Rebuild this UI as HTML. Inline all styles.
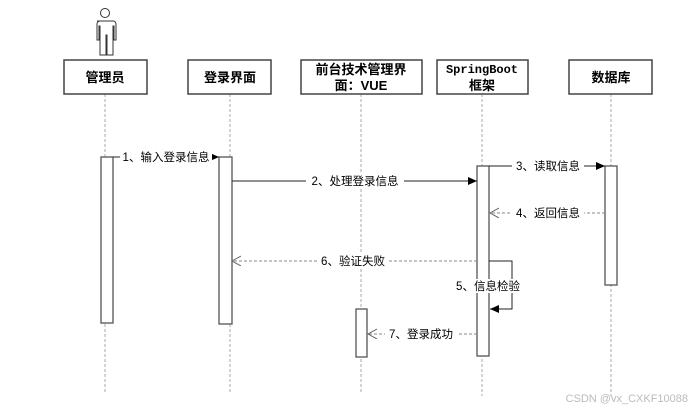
<!DOCTYPE html>
<html><head><meta charset="utf-8"><style>
body{margin:0;background:#fff;}
svg text{font-family:"Liberation Sans","Noto Sans CJK SC",sans-serif;}
svg text.mono{font-family:"Liberation Mono","Noto Sans CJK SC",monospace;}
</style></head><body>
<svg width="699" height="411" viewBox="0 0 699 411" xmlns="http://www.w3.org/2000/svg">
<defs>
<marker id="f" markerWidth="10" markerHeight="10" refX="9" refY="4" orient="auto" markerUnits="userSpaceOnUse"><path d="M0,0 L9,4 L0,8 z" fill="#000"/></marker>
<marker id="o" markerWidth="12" markerHeight="12" refX="9" refY="5" orient="auto" markerUnits="userSpaceOnUse"><path d="M0,0 L9,5 L0,10" fill="none" stroke="#666"/></marker>
</defs>
<!-- actor -->
<g fill="none" stroke="#333" stroke-width="1">
<circle cx="105" cy="13" r="4.5"/>
<path d="M97,21 h16 a3,3 0 0 1 3,3 v16 h-2 v-14 h-1 v29 h-6 v-20 h-1 v20 h-6 v-29 h-1 v14 h-2 v-16 a3,3 0 0 1 3,-3z"/>
</g>
<!-- lifelines -->
<g stroke="#aaa" stroke-dasharray="3,2" stroke-width="1">
<line x1="105" y1="94" x2="105" y2="392"/>
<line x1="230" y1="94" x2="230" y2="392"/>
<line x1="361" y1="94" x2="361" y2="392"/>
<line x1="482" y1="94" x2="482" y2="396"/>
<line x1="611" y1="94" x2="611" y2="396"/>
</g>
<!-- boxes -->
<g fill="#fff" stroke="#444" stroke-width="1.5">
<rect x="64" y="60" width="83" height="34"/>
<rect x="188" y="60" width="83" height="34"/>
<rect x="301" y="60" width="121" height="34"/>
<rect x="437" y="60" width="91" height="34"/>
<rect x="569" y="60" width="83" height="34"/>
</g>
<g font-size="13" font-weight="bold" text-anchor="middle" fill="#000">
<text x="105" y="82">管理员</text>
<text x="230" y="82">登录界面</text>
<text x="361" y="74">前台技术管理界</text>
<text x="361" y="90">面：VUE</text>
<text x="482" y="73" class="mono" font-size="12">SpringBoot</text>
<text x="482" y="90">框架</text>
<text x="611" y="82">数据库</text>
</g>
<!-- activations -->
<g fill="#fff" stroke="#555" stroke-width="1.3">
<rect x="101" y="157" width="12" height="166"/>
<rect x="219" y="157" width="13" height="167"/>
<rect x="477" y="166" width="12" height="190"/>
<rect x="605" y="166" width="12" height="119"/>
<rect x="356" y="309" width="11" height="48"/>
</g>
<!-- messages -->
<g stroke="#222" stroke-width="1" fill="none">
<line x1="113" y1="157" x2="219" y2="157" marker-end="url(#f)"/>
<line x1="232" y1="181" x2="477" y2="181" marker-end="url(#f)"/>
<line x1="489" y1="166" x2="605" y2="166" marker-end="url(#f)"/>
<path d="M489,261 H512 V309 H490" marker-end="url(#f)"/>
</g>
<g stroke="#888" stroke-width="1" stroke-dasharray="3,2" fill="none">
<line x1="605" y1="213" x2="490" y2="213" marker-end="url(#o)"/>
<line x1="477" y1="261" x2="232" y2="261" marker-end="url(#o)"/>
<line x1="477" y1="334" x2="368" y2="334" marker-end="url(#o)"/>
</g>
<g font-size="11.5" fill="#000" text-anchor="middle">
<rect x="120" y="150" width="92" height="14" fill="#fff"/>
<text x="166" y="161">1、输入登录信息</text>
<rect x="306" y="174" width="98" height="14" fill="#fff"/>
<text x="355" y="185">2、处理登录信息</text>
<rect x="512" y="159" width="72" height="14" fill="#fff"/>
<text x="548" y="170">3、读取信息</text>
<rect x="512" y="206" width="72" height="14" fill="#fff"/>
<text x="548" y="217">4、返回信息</text>
<rect x="317" y="254" width="72" height="14" fill="#fff"/>
<text x="353" y="265">6、验证失败</text>
<rect x="454" y="279" width="69" height="14" fill="#fff"/>
<text x="488" y="290">5、信息检验</text>
<rect x="385" y="327" width="72" height="14" fill="#fff"/>
<text x="421" y="338">7、登录成功</text>
</g>
<text x="688" y="402" font-size="11" fill="#bbb" text-anchor="end">CSDN @vx_CXKF10088</text>
</svg>
</body></html>
